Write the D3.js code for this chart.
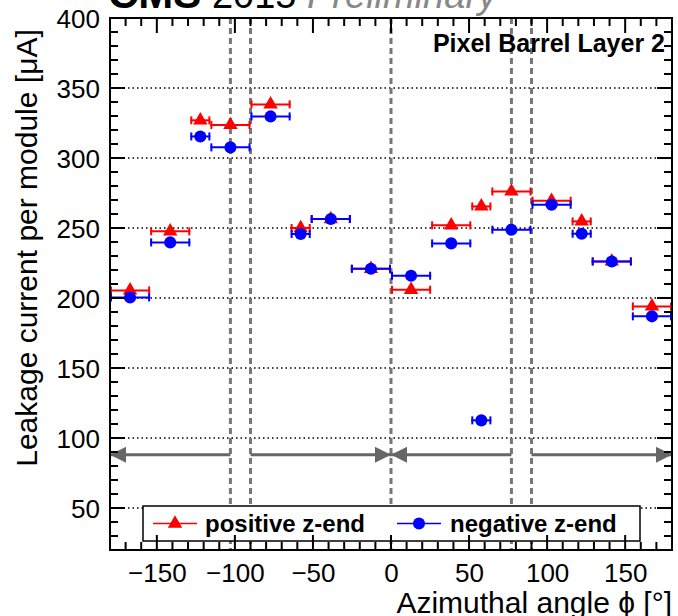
<!DOCTYPE html>
<html>
<head>
<meta charset="utf-8">
<script src="https://cdn.jsdelivr.net/npm/d3@7"></script>
<style>
  body { margin: 0; background: #fff; }
  svg { font-family: "Liberation Sans", Arial, sans-serif; }
</style>
</head>
<body>
<div id="graphique"></div>
<script>
// bins in phi (degrees), one per group of ladders
const phiLow  = [-180, -154.29, -128.57, -115.71, -90, -64.29, -51.43, -25.71, 0, 25.71, 51.43, 64.29, 90, 115.71, 128.57, 154.29]
const phiHigh = [-154.29, -128.57, -115.71, -90, -64.29, -51.43, -25.71, 0, 25.71, 51.43, 64.29, 90, 115.71, 128.57, 154.29, 180]

// leakage current per module [uA]
const positiveZ = [205.4, 247.6, 326.9, 323.6, 338.3, 250.0, 256.4, 220.9, 205.9, 251.9, 265.4, 276.1, 269.5, 254.7, 226.1, 194.0]
const negativeZ = [200.4, 239.7, 315.4, 307.6, 329.7, 245.7, 256.4, 220.9, 215.9, 239.0, 112.6, 248.8, 266.6, 245.9, 226.1, 186.9]

const xTicks = [-150, -100, -50, 0, 50, 100, 150]
const yTicks = [50, 100, 150, 200, 250, 300, 350, 400]
const dashedPhi = [-102.86, -90, 0, 77.14, 90]

// arrows: [from, to] in phi, head at "to"
const arrowFrom = [-102.86, -90, 77.14, 90]
const arrowTo   = [-180, 0, 0, 180]
const arrowLevel = 88

const width = 678, height = 616
const margin = { top: 18, right: 6, bottom: 66, left: 110 }
const w = width - margin.left - margin.right
const h = height - margin.top - margin.bottom

const svg = d3.select("#graphique").append("svg")
    .attr("width", width)
    .attr("height", height)

const x = d3.scaleLinear().domain([-180, 180]).range([0, w])
const y = d3.scaleLinear().domain([20, 400]).range([h, 0])

const g = svg.append("g")
    .attr("transform", "translate(" + margin.left + "," + margin.top + ")")

// horizontal dotted grid
g.append("g").selectAll("line")
    .data(yTicks.filter(d => d < 400))
    .enter().append("line")
    .attr("x1", 0).attr("x2", w)
    .attr("y1", d => y(d)).attr("y2", d => y(d))
    .attr("stroke", "#000").attr("stroke-width", 1.3)
    .attr("stroke-dasharray", "1.5,3")

// gray dashed vertical lines
g.append("g").selectAll("line")
    .data(dashedPhi)
    .enter().append("line")
    .attr("x1", d => x(d)).attr("x2", d => x(d))
    .attr("y1", 0).attr("y2", h)
    .attr("stroke", "#777").attr("stroke-width", 3)
    .attr("stroke-dasharray", "6,4")

// arrows
svg.append("defs").append("marker")
    .attr("id", "head")
    .attr("viewBox", "0 0 10 10")
    .attr("refX", 10).attr("refY", 5)
    .attr("markerWidth", 16).attr("markerHeight", 16)
    .attr("markerUnits", "userSpaceOnUse")
    .attr("orient", "auto")
    .append("path").attr("d", "M0,0L10,5L0,10z").attr("fill", "#666")

g.append("g").selectAll("line")
    .data(arrowFrom)
    .enter().append("line")
    .attr("x1", d => x(d))
    .attr("x2", (d, i) => x(arrowTo[i]))
    .attr("y1", y(arrowLevel)).attr("y2", y(arrowLevel))
    .attr("stroke", "#666").attr("stroke-width", 3)
    .attr("marker-end", "url(#head)")

// data series
function drawSeries(values, color, shape) {
    const s = g.append("g")
    s.selectAll(".err")
        .data(values)
        .enter().append("line")
        .attr("x1", (d, i) => x(phiLow[i]))
        .attr("x2", (d, i) => x(phiHigh[i]))
        .attr("y1", d => y(d)).attr("y2", d => y(d))
        .attr("stroke", color).attr("stroke-width", 2)
    s.selectAll(".capL")
        .data(values)
        .enter().append("line")
        .attr("x1", (d, i) => x(phiLow[i]) + 1).attr("x2", (d, i) => x(phiLow[i]) + 1)
        .attr("y1", d => y(d) - 4).attr("y2", d => y(d) + 4)
        .attr("stroke", color).attr("stroke-width", 2)
    s.selectAll(".capR")
        .data(values)
        .enter().append("line")
        .attr("x1", (d, i) => x(phiHigh[i]) - 1).attr("x2", (d, i) => x(phiHigh[i]) - 1)
        .attr("y1", d => y(d) - 4).attr("y2", d => y(d) + 4)
        .attr("stroke", color).attr("stroke-width", 2)
    s.selectAll(".mk")
        .data(values)
        .enter().append("path")
        .attr("transform", (d, i) => "translate(" + x((phiLow[i] + phiHigh[i]) / 2) + "," + y(d) + ")")
        .attr("d", shape)
        .attr("fill", color)
}
const triangle = d3.symbol().type(d3.symbolTriangle).size(90)()
const circle = d3.symbol().type(d3.symbolCircle).size(115)()
drawSeries(positiveZ, "#ff0000", triangle)
drawSeries(negativeZ, "#0000ff", circle)

// tick labels through d3 axes
const bottomAxis = g.append("g").attr("transform", "translate(0," + h + ")")
    .call(d3.axisBottom(x).tickValues(xTicks).tickSize(0).tickPadding(16))
const leftAxis = g.append("g")
    .call(d3.axisLeft(y).tickValues(yTicks).tickSize(0).tickPadding(10))
bottomAxis.select(".domain").remove()
leftAxis.select(".domain").remove()
g.selectAll(".tick text")
    .attr("font-family", "'Liberation Sans', Arial, sans-serif")
    .attr("font-size", 26).attr("fill", "#000")
leftAxis.selectAll(".tick text").attr("dy", "0.36em")
bottomAxis.selectAll(".tick text").attr("dy", "0.6em")

// legend
const leg = g.append("g").attr("transform", "translate(" + (143 - margin.left) + "," + (506 - margin.top) + ")")
leg.append("rect")
    .attr("width", 497).attr("height", 35)
    .attr("fill", "#fff").attr("stroke", "#000").attr("stroke-width", 1.5)
const legendItems = [
    { label: "positive z-end", color: "#ff0000", shape: triangle, x0: 10, tx: 62 },
    { label: "negative z-end", color: "#0000ff", shape: circle, x0: 254, tx: 307 }
]
legendItems.forEach(it => {
    leg.append("line")
        .attr("x1", it.x0).attr("x2", it.x0 + 44)
        .attr("y1", 17.5).attr("y2", 17.5)
        .attr("stroke", it.color).attr("stroke-width", 1.5)
    leg.append("path")
        .attr("transform", "translate(" + (it.x0 + 22) + ",17.5)")
        .attr("d", it.shape).attr("fill", it.color)
    leg.append("text")
        .attr("x", it.tx).attr("y", 17.5).attr("dy", "0.35em")
        .attr("font-size", 24).attr("font-weight", "bold")
        .text(it.label)
})

// texts
svg.append("text")
    .attr("x", 665).attr("y", 52)
    .attr("text-anchor", "end")
    .attr("font-size", 25).attr("font-weight", "bold")
    .text("Pixel Barrel Layer 2")

svg.append("text")
    .attr("transform", "translate(37,248) rotate(-90)")
    .attr("text-anchor", "middle")
    .attr("font-size", 30)
    .text("Leakage current per module [\u03bcA]")

svg.append("text")
    .attr("x", 672).attr("y", 613)
    .attr("text-anchor", "end")
    .attr("font-size", 30)
    .text("Azimuthal angle \u03d5 [\u00b0]")

const head = svg.append("text").attr("x", 108).attr("y", 8).attr("font-size", 38)
head.append("tspan").attr("font-weight", "bold").attr("font-size", 42).text("CMS")
head.append("tspan").text(" 2015 ")
head.append("tspan").attr("font-style", "italic").attr("fill", "#888").text("Preliminary")

// ROOT style ticks inside the frame, drawn last on top of everything
const majorLen = 15, minorLen = 8
const xMinor = d3.range(-170, 180, 10).filter(d => d % 50 !== 0)
const yMinor = d3.range(30, 400, 10).filter(d => d % 50 !== 0)
let tickPath = ""
xTicks.concat(xMinor).forEach(v => {
    const len = xTicks.includes(v) ? majorLen : minorLen
    const px = x(v)
    tickPath += "M" + px + "," + h + "V" + (h - len)
    tickPath += "M" + px + ",0V" + len
})
yTicks.concat(yMinor).forEach(v => {
    const len = yTicks.includes(v) ? majorLen : minorLen
    const py = y(v)
    tickPath += "M0," + py + "H" + len
    tickPath += "M" + w + "," + py + "H" + (w - len)
})
const frame = svg.append("g")
    .attr("transform", "translate(" + margin.left + "," + margin.top + ")")
frame.append("path")
    .attr("d", tickPath)
    .attr("fill", "none")
    .attr("stroke", "#000")
    .attr("stroke-width", 2)
frame.append("rect")
    .attr("width", w).attr("height", h)
    .attr("fill", "none").attr("stroke", "#000").attr("stroke-width", 2)
</script>
</body>
</html>
